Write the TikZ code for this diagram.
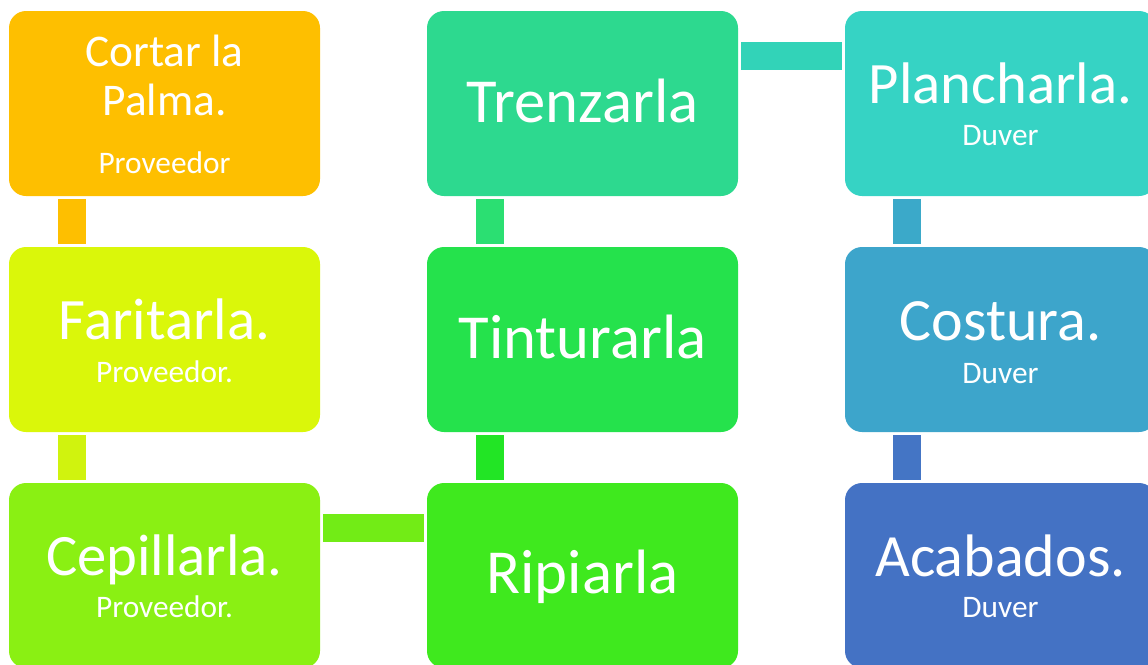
\documentclass[tikz,border=0pt]{standalone}
\usepackage{fontspec}
\setmainfont{Carlito}
\usetikzlibrary{calc, positioning}
\definecolor{cortarC}{HTML}{FEBF00}
\definecolor{faritC}{HTML}{DAF70A}
\definecolor{cepilC}{HTML}{8AF013}
\definecolor{ripiC}{HTML}{3FE91E}
\definecolor{tintC}{HTML}{25E24C}
\definecolor{trenzC}{HTML}{2DD98F}
\definecolor{planchC}{HTML}{36D3C4}
\definecolor{costC}{HTML}{3DA5CB}
\definecolor{acabC}{HTML}{4472C4}
\definecolor{barB}{HTML}{D0F30E}
\definecolor{barC}{HTML}{72EC16}
\definecolor{barD}{HTML}{22E525}
\definecolor{barE}{HTML}{2BDF72}
\definecolor{barF}{HTML}{32D3B8}
\definecolor{barG}{HTML}{3BA9C9}
\definecolor{barH}{HTML}{4475C5}

\begin{document}
\begin{tikzpicture}[x=0.75pt, y=-0.75pt,
    box/.style={rounded corners=12.75pt, minimum width=233.25pt, minimum height=138.75pt, inner sep=0pt, outer sep=0pt},
    bar/.style={line width=21pt, shorten <=2.25pt, shorten >=2.25pt},
    big/.style={white, anchor=base, inner sep=0pt, font=\fontsize{47}{56}\selectfont},
    mid/.style={white, anchor=base, inner sep=0pt, font=\fontsize{44}{53}\selectfont},
    midb/.style={white, anchor=base, inner sep=0pt, font=\fontsize{45}{54}\selectfont},
    small/.style={white, anchor=base, inner sep=0pt, font=\fontsize{34}{41}\selectfont},
    sub/.style={white, anchor=base, inner sep=0pt, font=\fontsize{23.5}{28}\selectfont}]
    \useasboundingbox (0,0) rectangle (1148,664);

    % cajas
    \node[box, fill=cortarC] (cortar) at (164.5,103.5) {};
    \node[box, fill=faritC] (farit) at (164.5,339.5) {};
    \node[box, fill=cepilC] (cepil) at (164.5,575.5) {};
    \node[box, fill=ripiC] (ripi) at (582.5,575.5) {};
    \node[box, fill=tintC] (tint) at (582.5,339.5) {};
    \node[box, fill=trenzC] (trenz) at (582.5,103.5) {};
    \node[box, fill=planchC] (planch) at (1000.5,103.5) {};
    \node[box, fill=costC] (cost) at (1000.5,339.5) {};
    \node[box, fill=acabC] (acab) at (1000.5,575.5) {};

    % uniones
    \draw[bar, cortarC] ([xshift=47pt]cortar.south west) -- ([xshift=47pt]farit.north west);
    \draw[bar, barB] ([xshift=47pt]farit.south west) -- ([xshift=47pt]cepil.north west);
    \draw[bar, barC] ([yshift=35.6pt]cepil.east) -- ([yshift=35.6pt]ripi.west);
    \draw[bar, barD] ([xshift=46.9pt]ripi.north west) -- ([xshift=46.9pt]tint.south west);
    \draw[bar, barE] ([xshift=46.9pt]tint.north west) -- ([xshift=46.9pt]trenz.south west);
    \draw[bar, barF] ([yshift=35.6pt]trenz.east) -- ([yshift=35.6pt]planch.west);
    \draw[bar, barG] ([xshift=46.5pt]planch.south west) -- ([xshift=46.5pt]cost.north west);
    \draw[bar, barH] ([xshift=46.5pt]cost.south west) -- ([xshift=46.5pt]acab.north west);

    % textos
    \node[small] (cortarA) at (164.5,66) {Cortar la};
    \node[small] (cortarB) at (164.5,115) {Palma.};
    \node[sub] (cortarS) at (164.5,173) {Proveedor};
    \node[mid] (faritT) at (164.5,339) {Faritarla.};
    \node[sub] (faritS) at (164.5,382) {Proveedor.};
    \node[mid] (cepilT) at (164.5,575) {Cepillarla.};
    \node[sub] (cepilS) at (164.5,617) {Proveedor.};
    \node[big] (ripiT) at (582.5,593) {Ripiarla};
    \node[big] (tintT) at (582.5,358) {Tinturarla};
    \node[big] (trenzT) at (582.5,122) {Trenzarla};
    \node[mid] (planchT) at (1000.5,103) {Plancharla.};
    \node[sub] (planchS) at (1000.5,145) {Duver};
    \node[midb] (costT) at (1000.5,340) {Costura.};
    \node[sub] (costS) at (1000.5,383) {Duver};
    \node[midb] (acabT) at (1000.5,576) {Acabados.};
    \node[sub] (acabS) at (1000.5,617) {Duver};
\end{tikzpicture}
\end{document}
